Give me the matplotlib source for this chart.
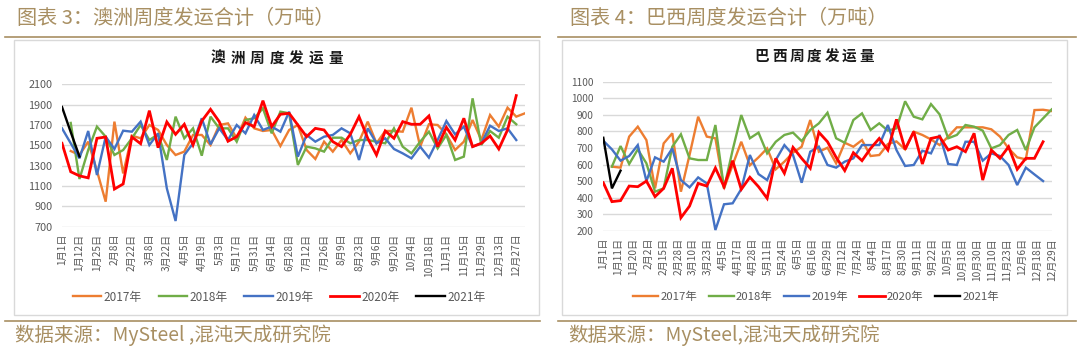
import numpy as np
import matplotlib
matplotlib.use("Agg")
import matplotlib.pyplot as plt
from matplotlib.patches import Rectangle
from matplotlib.lines import Line2D

plt.rcParams['font.family'] = ['Noto Sans CJK SC', 'DejaVu Sans']

nan = np.nan

# ---- Australia weekly shipments (10k t) ----
au_labels = ['1月1日', '1月12日', '1月25日', '2月8日', '2月22日', '3月8日', '3月22日',
             '4月5日', '4月19日', '5月3日', '5月17日', '5月31日', '6月14日', '6月28日',
             '7月12日', '7月26日', '8月9日', '8月23日', '9月6日', '9月20日', '10月4日',
             '10月18日', '11月1日', '11月15日', '11月29日', '12月13日', '12月27日']
au_2017 = [1444, 1405, 1536, 1250, 946, 1733, 1224, 1595, 1569, 1700, 1651, 1503, 1405,
           1438, 1602, 1602, 1503, 1700, 1716, 1569, 1772, 1667, 1641, 1651, 1493, 1651,
           1700, 1454, 1366, 1536, 1438, 1552, 1421, 1536, 1733, 1520, 1641, 1641, 1634,
           1870, 1487, 1707, 1700, 1608, 1454, 1536, 1749, 1552, 1798, 1684, 1870, 1782, 1815]
au_2018 = [1720, 1169, 1454, 1684, 1585, 1405, 1454, 1569, 1700, 1552, 1608, 1356, 1782,
           1569, 1667, 1398, 1782, 1667, 1667, 1536, 1749, 1766, 1864, 1618, 1831, 1815,
           1307, 1487, 1470, 1438, 1575, 1575, 1520, 1552, 1552, 1536, 1520, 1667, 1487,
           1421, 1536, 1634, 1470, 1602, 1356, 1389, 1962, 1503, 1641, 1575, 1782, 1707]
au_2019 = [1667, 1520, 1372, 1641, 1208, 1585, 1464, 1644, 1634, 1733, 1503, 1618, 1077,
           756, 1405, 1520, 1766, 1510, 1667, 1552, 1700, 1618, 1798, 1651, 1684, 1634,
           1831, 1389, 1602, 1536, 1585, 1602, 1667, 1618, 1356, 1667, 1520, 1569, 1464,
           1421, 1372, 1487, 1379, 1552, 1739, 1608, 1684, 1487, 1520, 1693, 1641, 1667, 1552]
au_2020 = [1520, 1240, 1200, 1180, 1569, 1582, 1070, 1120, 1582, 1516, 1841, 1477, 1730,
           1608, 1707, 1503, 1739, 1854, 1733, 1540, 1585, 1723, 1684, 1939, 1684, 1805,
           1815, 1700, 1585, 1667, 1651, 1536, 1487, 1608, 1782, 1569, 1405, 1641, 1569,
           1733, 1707, 1707, 1789, 1487, 1677, 1552, 1766, 1487, 1520, 1592, 1464, 1651, 1989]
au_2021 = [1877, 1630, 1390]

# ---- Brazil weekly shipments (10k t) ----
br_labels = ['1月1日', '1月11日', '1月20日', '2月2日', '2月15日', '2月28日', '3月10日',
             '3月23日', '4月5日', '4月17日', '4月28日', '5月11日', '5月24日', '6月5日',
             '6月16日', '6月29日', '7月12日', '7月24日', '8月4日', '8月17日', '8月30日',
             '9月11日', '9月22日', '10月5日', '10月18日', '10月30日', '11月10日',
             '11月23日', '12月6日', '12月18日', '12月29日']
br_2017 = [588, 582, 769, 829, 748, 457, 728, 789, 437, 658, 889, 769, 759, 457, 598, 738,
           596, 644, 698, 572, 618, 672, 708, 869, 678, 702, 608, 732, 708, 748, 652, 658,
           724, 740, 692, 799, 779, 752, 718, 769, 825, 825, 825, 825, 813, 769, 698, 644,
           632, 929, 931, 923]
br_2018 = [588, 712, 604, 692, 608, 437, 457, 708, 783, 638, 628, 628, 839, 457, 688, 899,
           759, 793, 668, 738, 779, 793, 742, 809, 849, 913, 759, 732, 869, 909, 809, 849,
           805, 819, 982, 889, 873, 965, 903, 759, 779, 839, 829, 805, 698, 718, 779, 809,
           688, 825, 879, 933]
br_2019 = [744, 692, 624, 652, 718, 501, 644, 618, 698, 507, 463, 523, 487, 206, 361, 367,
           453, 658, 543, 507, 628, 718, 658, 491, 678, 708, 598, 582, 618, 638, 718, 718,
           718, 839, 688, 592, 598, 684, 668, 779, 604, 598, 738, 738, 624, 668, 652, 598,
           477, 582, 541, 501]
br_2020 = [491, 377, 383, 471, 467, 501, 407, 457, 578, 280, 350, 487, 471, 580, 467, 624,
           451, 524, 467, 397, 638, 548, 704, 638, 578, 795, 738, 644, 564, 672, 624, 698,
           758, 688, 873, 692, 799, 604, 758, 769, 688, 708, 678, 789, 507, 688, 638, 708,
           572, 638, 638, 738]
br_2021 = [762, 457, 564]

years = ['2017年', '2018年', '2019年', '2020年', '2021年']
colors = ['#ED7D31', '#70AD47', '#4472C4', '#FF0000', '#000000']
starts = [1, 1, 0, 0, 0]

W, H = 1080, 350
gold = '#A88F62'
grey = '#595959'


def fx(x):
    return x / W


def fy(y):
    return 1 - y / H


fig = plt.figure(figsize=(10.8, 3.5), dpi=100)

# headings, rules, boxes, source
for x0, x1, head, src in [(5, 540, '图表 3：澳洲周度发运合计（万吨）', '数据来源：MySteel ,混沌天成研究院'),
                          (558, 1076, '图表 4：巴西周度发运合计（万吨）', '数据来源：MySteel,混沌天成研究院')]:
    fig.text(fx(x0 + 12), fy(18), head, color=gold, fontsize=14.5, va='center')
    fig.add_artist(Line2D([fx(x0), fx(x1)], [fy(37), fy(37)], color=gold, lw=1.2))
    fig.add_artist(Line2D([fx(x0), fx(x1)], [fy(321), fy(321)], color=gold, lw=1.2))
    fig.text(fx(x0 + 10), fy(335), src, color=gold, fontsize=14, va='center')

fig.add_artist(Rectangle((fx(14), fy(315)), fx(539) - fx(14), fy(40) - fy(315),
                         fill=False, edgecolor='#D9D9D9', lw=1))
fig.add_artist(Rectangle((fx(562), fy(315)), fx(1067) - fx(562), fy(40) - fy(315),
                         fill=False, edgecolor='#D9D9D9', lw=1))

# chart titles, letter spaced
for ch_i, ch in enumerate('澳洲周度发运量'):
    fig.text(fx(218 + ch_i * 19.6), fy(58), ch, fontsize=10.5, fontweight='bold',
             ha='center', va='center', color='#1a1a1a')
for ch_i, ch in enumerate('巴西周度发运量'):
    fig.text(fx(762 + ch_i * 17.4), fy(56), ch, fontsize=10.5, fontweight='bold',
             ha='center', va='center', color='#1a1a1a')


def draw(ax, series, ylim, ystep, xmax, ticks, labels, ylsize):
    for s, c, st, lab in zip(series, colors, starts, years):
        x = np.arange(len(s)) + st
        ax.plot(x, s, color=c, lw=2.0 if c == '#FF0000' else 1.7, label=lab,
                solid_joinstyle='miter')
    ax.set_xlim(0, xmax)
    ax.set_ylim(*ylim)
    ax.set_yticks(np.arange(ylim[0], ylim[1] + 1, ystep))
    ax.set_xticks(ticks)
    ax.set_xticklabels(labels, rotation=90, fontsize=7.3, color=grey)
    ax.tick_params(axis='y', labelsize=ylsize, labelcolor=grey, length=0, pad=7)
    ax.tick_params(axis='x', length=0, pad=5)
    ax.yaxis.grid(True, color='#D9D9D9', lw=1)
    ax.set_axisbelow(True)
    for sp in ax.spines.values():
        sp.set_visible(False)


ax1 = fig.add_axes([fx(62), fy(226.7), fx(525) - fx(62), fy(84.3) - fy(226.7)])
draw(ax1, [au_2017, au_2018, au_2019, au_2020, au_2021], (700, 2100), 200, 53,
     np.arange(0, 53, 2), au_labels, 7.8)
ax1.legend(loc='center', bbox_to_anchor=(fx(279), fy(297)), bbox_transform=fig.transFigure,
           ncol=5, frameon=False, fontsize=8.5, handlelength=2.4, handletextpad=0.2,
           columnspacing=1.45, labelcolor=grey)

ax2 = fig.add_axes([fx(603.3), fy(231), fx(1051.7) - fx(603.3), fy(81.7) - fy(231)])
draw(ax2, [br_2017, br_2018, br_2019, br_2020, br_2021], (200, 1100), 100, 52,
     np.linspace(0, 52, 31), br_labels, 7.3)
ax2.legend(loc='center', bbox_to_anchor=(fx(816), fy(297)), bbox_transform=fig.transFigure,
           ncol=5, frameon=False, fontsize=8.2, handlelength=2.2, handletextpad=0.2,
           columnspacing=1.0, labelcolor=grey)

fig.savefig('out.png', dpi=100, facecolor='white')
